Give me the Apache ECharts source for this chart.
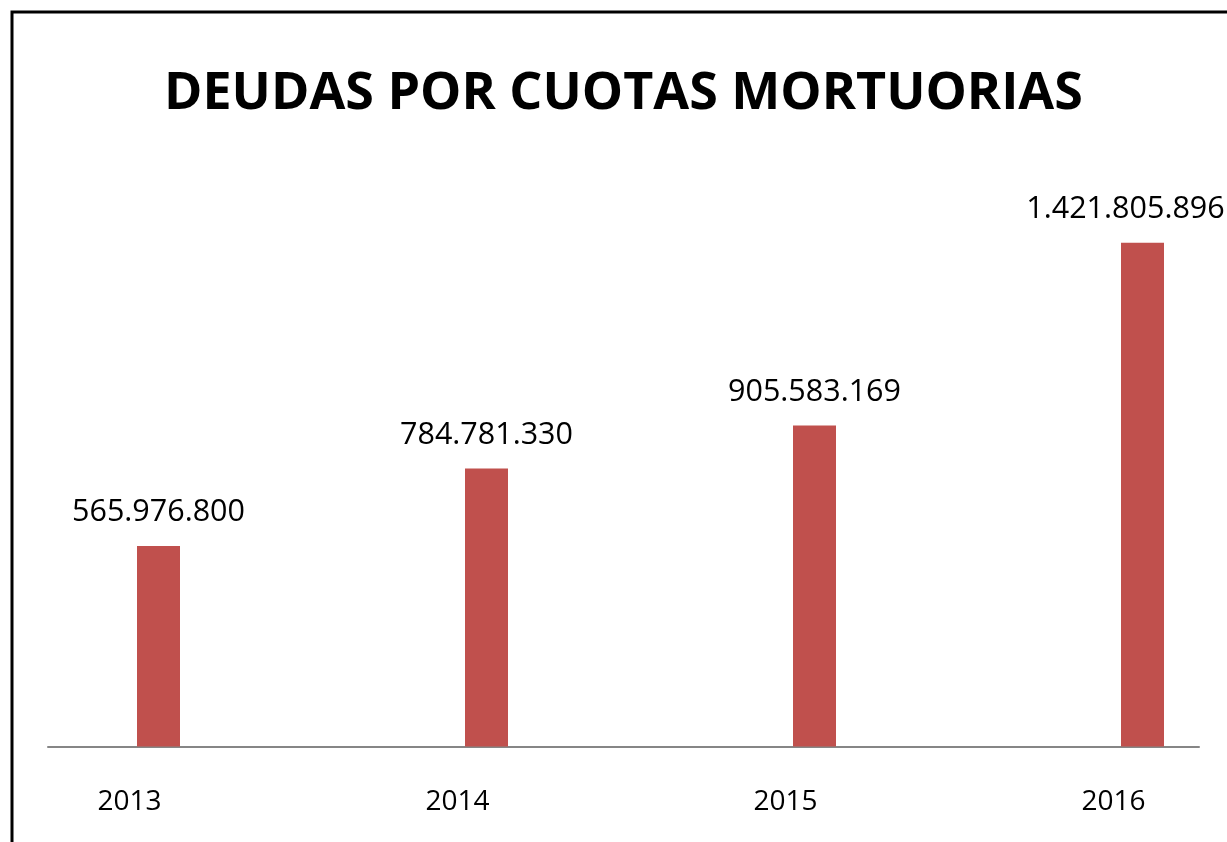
<!DOCTYPE html>
<html><head><meta charset="utf-8">
<script src="https://cdn.jsdelivr.net/npm/echarts@6/dist/echarts.min.js"></script>
<style>html,body{margin:0;padding:0;background:#fff}#c{width:1227px;height:842px}</style>
</head><body><div id="c"></div>
<script>
const titleText = 'DEUDAS POR CUOTAS MORTUORIAS';
const years = ['2013', '2014', '2015', '2016'];
const deudas = [565976800, 784781330, 905583169, 1421805896];

function fmt(v) {
  return String(v).replace(/\B(?=(\d{3})+(?!\d))/g, '.');
}

const chart = echarts.init(document.getElementById('c'), null, {renderer: 'canvas'});
chart.setOption({
  backgroundColor: '#ffffff',
  animation: false,
  title: {
    text: titleText,
    left: 159,
    top: 63,
    textStyle: {fontFamily: 'Open Sans', fontWeight: 'bold', fontSize: 52, color: '#000'}
  },
  graphic: [{
    type: 'rect', silent: true,
    shape: {x: 12, y: 12, width: 1400, height: 1000},
    style: {fill: 'none', stroke: '#000', lineWidth: 3}
  }],
  grid: [
    {left: -5.5, width: 1312, top: 179.5, bottom: 95.5, outerBoundsMode: 'none', containLabel: false},
    {left: 48, right: 28, top: 179.5, bottom: 95.5}
  ],
  xAxis: [{
    type: 'category', data: years, gridIndex: 0,
    axisLine: {show: false}, axisTick: {show: false},
    axisLabel: {fontFamily: 'Open Sans', fontSize: 28, color: '#000', margin: 42, padding: [0, 58, 0, 0]}
  }, {
    type: 'value', gridIndex: 1, min: 0, max: 1,
    axisLine: {show: true, lineStyle: {color: '#868686', width: 2}},
    axisTick: {show: false}, axisLabel: {show: false}, splitLine: {show: false}
  }],
  yAxis: [{
    type: 'value', gridIndex: 0, min: 0, max: 1600000000,
    show: false, splitLine: {show: false}
  }, {
    type: 'value', gridIndex: 1, show: false
  }],
  series: [{
    type: 'bar', xAxisIndex: 0, yAxisIndex: 0,
    barWidth: 43,
    itemStyle: {color: '#C0504D'},
    data: deudas.map((v, i) => i === deudas.length - 1
      ? {value: v, label: {offset: [-17, 0]}}
      : v),
    label: {
      show: true, position: 'top', distance: 18,
      fontFamily: 'Open Sans', fontSize: 30.5, color: '#000',
      formatter: p => fmt(p.value)
    }
  }]
});
</script></body></html>
